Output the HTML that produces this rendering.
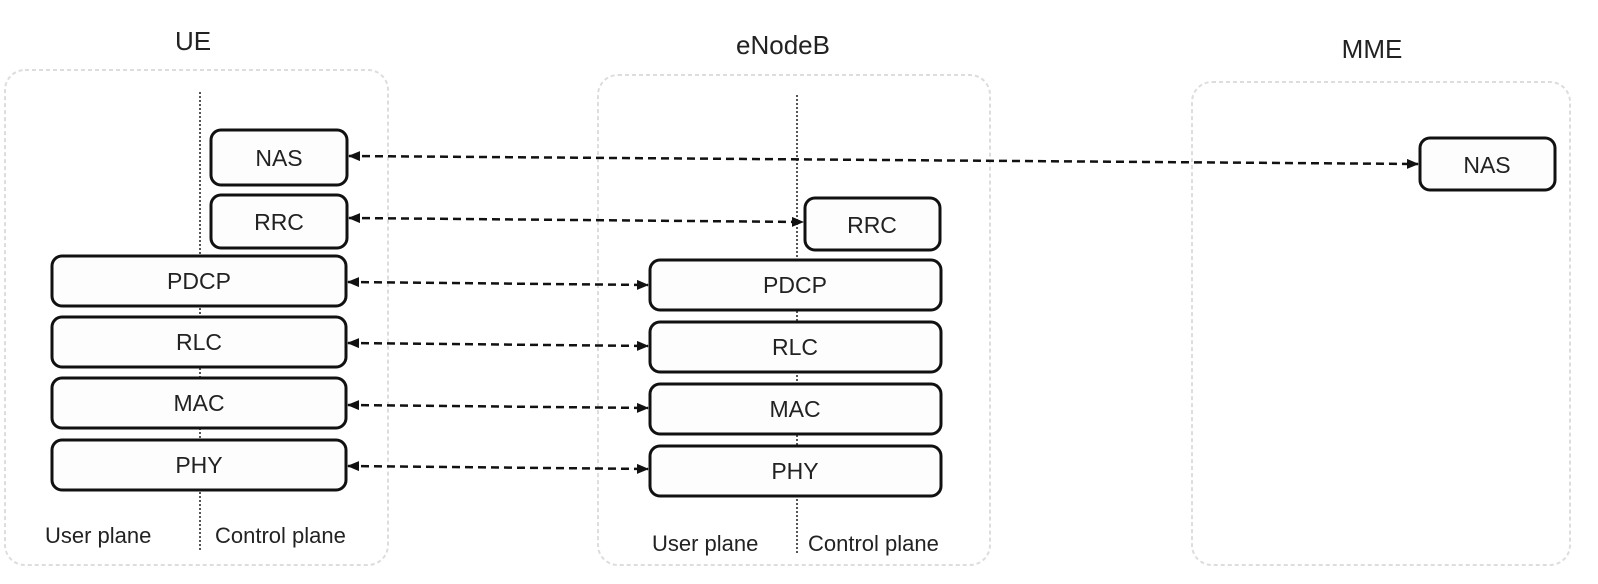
<!DOCTYPE html>
<html><head><style>
html,body{margin:0;padding:0;background:#fff;}
svg{display:block;}
text{font-family:"Liberation Sans",Arial,sans-serif;fill:#222;}
</style></head><body>
<svg width="1598" height="584" viewBox="0 0 1598 584" xmlns="http://www.w3.org/2000/svg">
<defs>
<marker id="a" markerWidth="12" markerHeight="10" refX="11" refY="5" orient="auto-start-reverse" markerUnits="userSpaceOnUse">
<path d="M0,0 L12,5 L0,10 Z" fill="#111"/></marker>
</defs>
<rect width="1598" height="584" fill="#fff"/>
<g fill="none" stroke="#ddd" stroke-width="2" stroke-dasharray="4,3">
<rect x="5" y="70" width="383" height="495" rx="20"/>
<rect x="598" y="75" width="392" height="490" rx="20"/>
<rect x="1192" y="82" width="378" height="483" rx="20"/>
</g>
<g stroke="#555" stroke-width="2" stroke-dasharray="2,2">
<line x1="200" y1="92" x2="200" y2="550"/>
<line x1="797" y1="95" x2="797" y2="555"/>
</g>
<text x="193" y="50" font-size="26" text-anchor="middle">UE</text>
<text x="783" y="54" font-size="26" text-anchor="middle">eNodeB</text>
<text x="1372" y="58" font-size="26" text-anchor="middle">MME</text>
<g fill="#fdfdfd" stroke="#111" stroke-width="3">
<rect x="211" y="130" width="136" height="55" rx="10"/>
<rect x="211" y="195" width="136" height="53" rx="10"/>
<rect x="52" y="256" width="294" height="50" rx="10"/>
<rect x="52" y="317" width="294" height="50" rx="10"/>
<rect x="52" y="378" width="294" height="50" rx="10"/>
<rect x="52" y="440" width="294" height="50" rx="10"/>
<rect x="805" y="198" width="135" height="52" rx="10"/>
<rect x="650" y="260" width="291" height="50" rx="10"/>
<rect x="650" y="322" width="291" height="50" rx="10"/>
<rect x="650" y="384" width="291" height="50" rx="10"/>
<rect x="650" y="446" width="291" height="50" rx="10"/>
<rect x="1420" y="138" width="135" height="52" rx="10"/>
</g>
<g font-size="23" text-anchor="middle">
<text x="279" y="166">NAS</text>
<text x="279" y="230">RRC</text>
<text x="199" y="289">PDCP</text>
<text x="199" y="350">RLC</text>
<text x="199" y="411">MAC</text>
<text x="199" y="473">PHY</text>
<text x="872" y="233">RRC</text>
<text x="795" y="293">PDCP</text>
<text x="795" y="355">RLC</text>
<text x="795" y="417">MAC</text>
<text x="795" y="479">PHY</text>
<text x="1487" y="173">NAS</text>
</g>
<g font-size="22">
<text x="45" y="543">User plane</text>
<text x="215" y="543">Control plane</text>
<text x="652" y="551">User plane</text>
<text x="808" y="551">Control plane</text>
</g>
<g stroke="#111" stroke-width="2.5" stroke-dasharray="8,5" marker-start="url(#a)" marker-end="url(#a)">
<line x1="349" y1="156" x2="1418" y2="164"/>
<line x1="349" y1="218" x2="803" y2="222"/>
<line x1="348" y1="282" x2="648" y2="285"/>
<line x1="348" y1="343" x2="648" y2="346"/>
<line x1="348" y1="405" x2="648" y2="408"/>
<line x1="348" y1="466" x2="648" y2="469"/>
</g>
</svg>
</body></html>
